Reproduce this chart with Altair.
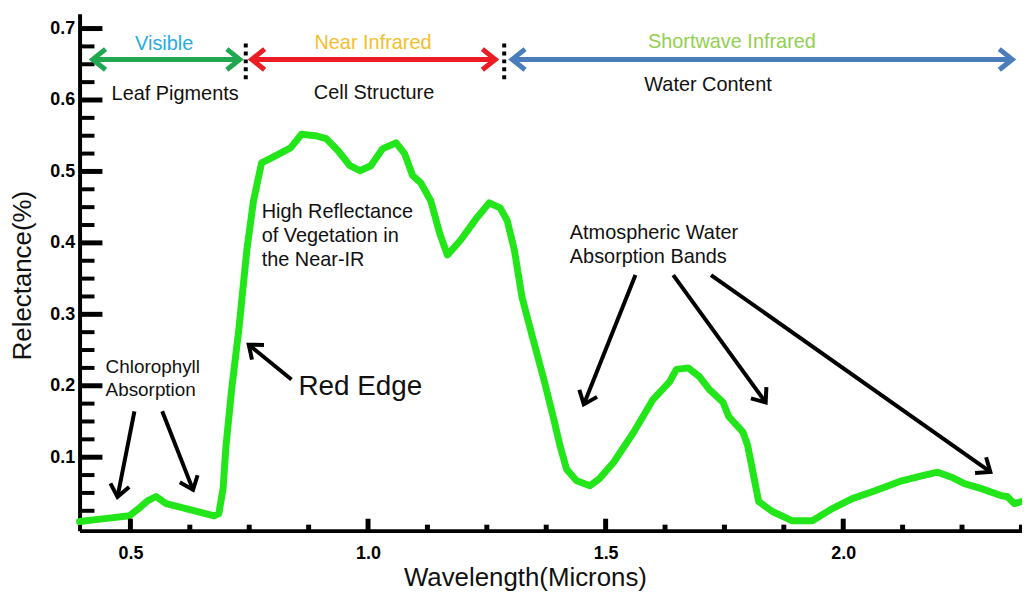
import altair as alt
import numpy as np
import pandas as pd

# ---------------- data ----------------
wavelength = [0.393, 0.446, 0.498, 0.519, 0.536, 0.554, 0.575, 0.617, 0.676, 0.686,
              0.695, 0.701, 0.713, 0.728, 0.745, 0.759, 0.776, 0.797, 0.837, 0.860,
              0.889, 0.912, 0.937, 0.962, 0.983, 1.006, 1.031, 1.059, 1.077, 1.094,
              1.111, 1.132, 1.151, 1.167, 1.195, 1.230, 1.255, 1.278, 1.293, 1.308,
              1.324, 1.345, 1.370, 1.391, 1.404, 1.418, 1.439, 1.467, 1.487, 1.517,
              1.559, 1.600, 1.634, 1.649, 1.674, 1.697, 1.718, 1.747, 1.759, 1.789,
              1.799, 1.810, 1.822, 1.851, 1.893, 1.935, 1.977, 2.019, 2.067, 2.123,
              2.165, 2.199, 2.228, 2.255, 2.291, 2.333, 2.345, 2.360, 2.376]
reflectance = [0.010, 0.014, 0.018, 0.029, 0.039, 0.045, 0.035, 0.028, 0.018, 0.021,
               0.056, 0.115, 0.195, 0.278, 0.390, 0.459, 0.512, 0.519, 0.533, 0.552,
               0.550, 0.546, 0.529, 0.508, 0.501, 0.508, 0.532, 0.540, 0.525, 0.494,
               0.484, 0.459, 0.413, 0.383, 0.404, 0.436, 0.456, 0.449, 0.431, 0.390,
               0.324, 0.271, 0.209, 0.153, 0.116, 0.083, 0.067, 0.060, 0.070, 0.093,
               0.135, 0.181, 0.205, 0.223, 0.225, 0.213, 0.195, 0.177, 0.157, 0.135,
               0.116, 0.079, 0.038, 0.024, 0.011, 0.011, 0.028, 0.042, 0.053, 0.067,
               0.074, 0.079, 0.072, 0.063, 0.056, 0.046, 0.045, 0.035, 0.038]

x_major = [0.5, 1.0, 1.5, 2.0]
x_minor = [0.625, 0.75, 0.875, 1.125, 1.25, 1.375, 1.625, 1.75, 1.875, 2.125, 2.25, 2.375]
y_major = [0.1, 0.2, 0.3, 0.4, 0.5, 0.6, 0.7]
y_minor = [0.025, 0.05, 0.075, 0.125, 0.15, 0.175, 0.225, 0.25, 0.275, 0.325, 0.35,
           0.375, 0.425, 0.45, 0.475, 0.525, 0.55, 0.575, 0.625, 0.65, 0.675]

# spectral regions across the top
band_names = ["Visible", "Near Infrared", "Shortwave Infrared"]
band_start = [0.4205, 0.7552, 1.3033]
band_end = [0.7301, 1.2678, 2.3556]
band_arrow_y = [0.6568, 0.6568, 0.6568]
band_label_x = [0.5711, 1.0105, 1.7657]
band_label_y = [0.6777, 0.6791, 0.6805]
band_text_colors = ["#29abe2", "#f2be2e", "#92d050"]
band_arrow_colors = ["#1fa84f", "#ec1c24", "#4a7ebb"]
band_sub = ["Leaf Pigments", "Cell Structure", "Water Content"]
band_sub_x = [0.5941, 1.0126, 1.7155]
band_sub_y = [0.6081, 0.6095, 0.6206]
sep_x = [0.7427, 1.2866]
sep_y1 = [0.629, 0.629]
sep_y2 = [0.6847, 0.6847]

# annotations
note_text = ["Chlorophyll", "Absorption", "Red Edge", "High Reflectance",
             "of Vegetation in", "the Near-IR", "Atmospheric Water", "Absorption Bands"]
note_x = [0.4477, 0.4477, 0.8536, 0.7762, 0.7762, 0.7762, 1.4247, 1.4247]
note_y = [0.2268, 0.1934, 0.1976, 0.4425, 0.4091, 0.3757, 0.4133, 0.3799]
note_size = [19, 19, 28, 20, 20, 20, 20, 20]

arrow_x1 = [0.5084, 0.5669, 0.8389, 1.5628, 1.6423, 1.7218]
arrow_y1 = [0.1642, 0.1642, 0.2087, 0.3549, 0.3549, 0.3549]
arrow_x2 = [0.4728, 0.6318, 0.7490, 1.4540, 1.8368, 2.3096]
arrow_y2 = [0.0445, 0.0543, 0.2574, 0.1739, 0.1767, 0.0793]

# ---------------- layout ----------------
XMIN, XMAX = 0.393, 2.3762
YMIN, YMAX = -0.00278, 0.7208
W, H = 948, 520
FONT = "Liberation Sans"
XPX = W / (XMAX - XMIN)
YPX = H / (YMAX - YMIN)

xs = alt.Scale(domain=[XMIN, XMAX], nice=False, zero=False)
ys = alt.Scale(domain=[YMIN, YMAX], nice=False, zero=False)

x_axis = alt.Axis(
    values=x_major, format=".1f", title="Wavelength(Microns)", ticks=False, grid=False,
    domainColor="black", domainWidth=4, labelFont=FONT, labelFontSize=18,
    labelFontWeight="bold", labelColor="black", labelPadding=14,
    titleFont=FONT, titleFontSize=26, titleFontWeight="normal", titleColor="#111111",
    titleX=448, titleY=55, titleAlign="center", titleBaseline="alphabetic")
y_axis = alt.Axis(
    values=y_major, format=".1f", title="Relectance(%)", ticks=False, grid=False,
    domainColor="black", domainWidth=4, labelFont=FONT, labelFontSize=18,
    labelFontWeight="bold", labelColor="black", labelPadding=5,
    titleFont=FONT, titleFontSize=26, titleFontWeight="normal", titleColor="#111111",
    titleAngle=270, titleX=-49, titleY=263, titleAlign="center",
    titleBaseline="alphabetic")

CHEVRON = "M -1 -0.8 L 0 0 L -1 0.8"


def head_angle(x1, y1, x2, y2):
    dx = (x2 - x1) * XPX
    dy = -(y2 - y1) * YPX
    return float(np.degrees(np.arctan2(dy, dx)) % 360)


def X(field):
    return alt.X(field, scale=xs, axis=x_axis)


def Y(field):
    return alt.Y(field, scale=ys, axis=y_axis)


# ---------------- layers ----------------
curve_df = pd.DataFrame({"wl": wavelength, "r": reflectance})
curve = alt.Chart(curve_df).mark_line(
    color="#22e619", strokeWidth=7, strokeJoin="round", strokeCap="round"
).encode(x=X("wl:Q"), y=Y("r:Q"))

ytick_major = alt.Chart(pd.DataFrame({"v": y_major})).mark_rule(
    color="black", strokeWidth=5).encode(y=Y("v:Q"), x=alt.value(0), x2=alt.value(23))
ytick_minor = alt.Chart(pd.DataFrame({"v": y_minor})).mark_rule(
    color="black", strokeWidth=4).encode(y=Y("v:Q"), x=alt.value(0), x2=alt.value(15))
xtick_major = alt.Chart(pd.DataFrame({"v": x_major})).mark_rule(
    color="black", strokeWidth=5).encode(x=X("v:Q"), y=alt.value(H), y2=alt.value(H - 12))
xtick_minor = alt.Chart(pd.DataFrame({"v": x_minor})).mark_rule(
    color="black", strokeWidth=5).encode(x=X("v:Q"), y=alt.value(H), y2=alt.value(H - 6))

band_df = pd.DataFrame({"x1": band_start, "x2": band_end, "y": band_arrow_y,
                        "c": band_arrow_colors})
band_arrows = alt.Chart(band_df).mark_rule(strokeWidth=5).encode(
    x=X("x1:Q"), x2="x2:Q", y=Y("y:Q"), color=alt.Color("c:N", scale=None))

sep_df = pd.DataFrame({"x": sep_x, "y1": sep_y1, "y2": sep_y2})
separators = alt.Chart(sep_df).mark_rule(
    color="black", strokeWidth=4, strokeDash=[4, 4]).encode(
    x=X("x:Q"), y=Y("y1:Q"), y2="y2:Q")

arrow_df = pd.DataFrame({"x1": arrow_x1, "y1": arrow_y1, "x2": arrow_x2, "y2": arrow_y2})
black_arrows = alt.Chart(arrow_df).mark_rule(color="black", strokeWidth=4).encode(
    x=X("x1:Q"), y=Y("y1:Q"), x2="x2:Q", y2="y2:Q")

# arrow heads
hx, hy, ha, hc, hs, hw = [], [], [], [], [], []
for x1, x2, y, c in zip(band_start, band_end, band_arrow_y, band_arrow_colors):
    hx += [x1, x2]
    hy += [y, y]
    ha += [180.0, 0.0]
    hc += [c, c]
    hs += [676, 676]
    hw += [5, 5]
for x1, y1, x2, y2 in zip(arrow_x1, arrow_y1, arrow_x2, arrow_y2):
    hx.append(x2)
    hy.append(y2)
    ha.append(head_angle(x1, y1, x2, y2))
    hc.append("black")
    hs.append(576)
    hw.append(4)
head_df = pd.DataFrame({"x": hx, "y": hy, "a": ha, "c": hc, "s": hs, "w": hw})
heads = alt.Chart(head_df).mark_point(
    shape=CHEVRON, filled=False, opacity=1, strokeJoin="miter", strokeCap="butt").encode(
    x=X("x:Q"), y=Y("y:Q"),
    angle=alt.Angle("a:Q", scale=None), color=alt.Color("c:N", scale=None),
    size=alt.Size("s:Q", scale=None), strokeWidth=alt.StrokeWidth("w:Q", scale=None))

band_label_df = pd.DataFrame({"t": band_names, "x": band_label_x, "y": band_label_y,
                              "c": band_text_colors})
band_labels = alt.Chart(band_label_df).mark_text(
    font=FONT, fontSize=20, align="center", baseline="middle").encode(
    x=X("x:Q"), y=Y("y:Q"), text="t:N", color=alt.Color("c:N", scale=None))

band_sub_df = pd.DataFrame({"t": band_sub, "x": band_sub_x, "y": band_sub_y})
band_subs = alt.Chart(band_sub_df).mark_text(
    font=FONT, fontSize=20, align="center", baseline="middle", color="#111111").encode(
    x=X("x:Q"), y=Y("y:Q"), text="t:N")

note_df = pd.DataFrame({"t": note_text, "x": note_x, "y": note_y, "s": note_size})
notes = alt.Chart(note_df).mark_text(
    font=FONT, align="left", baseline="middle", color="#111111").encode(
    x=X("x:Q"), y=Y("y:Q"), text="t:N", size=alt.Size("s:Q", scale=None))

chart = alt.layer(
    curve, ytick_minor, ytick_major, xtick_minor, xtick_major,
    separators, band_arrows, black_arrows, heads,
    band_labels, band_subs, notes,
).properties(
    width=W, height=H, background="white",
    padding={"left": 72, "top": 4, "right": 0, "bottom": 59},
    autosize=alt.AutoSizeParams(type="none"),
).configure_view(stroke=None)

chart.save("out.html", embed_options={"renderer": "svg", "actions": False})
